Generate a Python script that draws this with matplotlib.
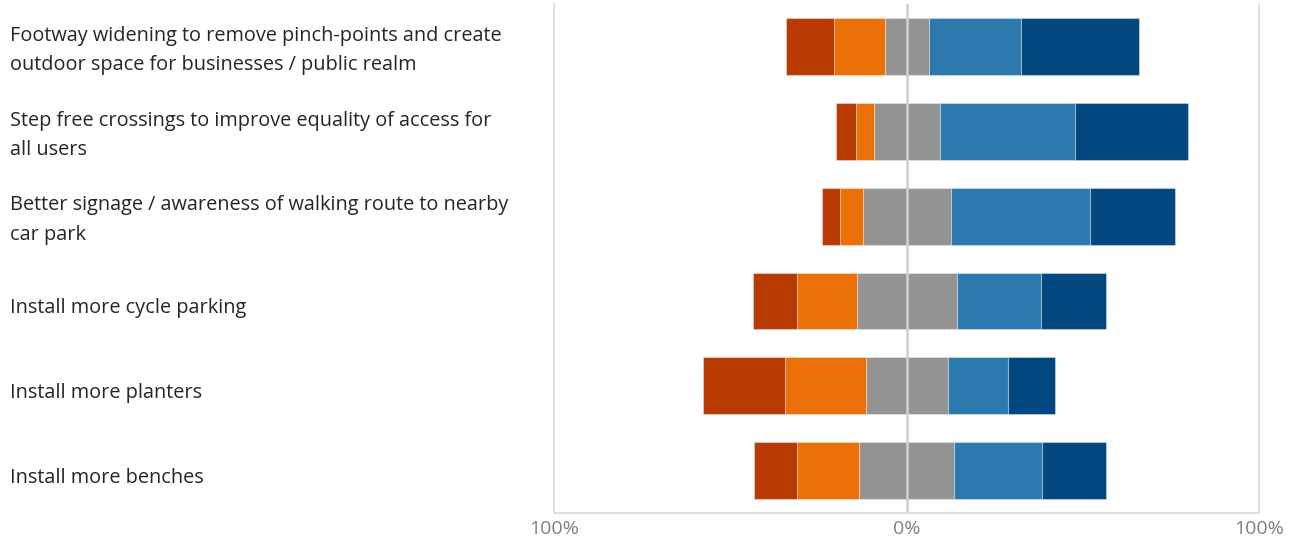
import matplotlib
matplotlib.use("Agg")
import matplotlib.pyplot as plt
import matplotlib.transforms as mtransforms
import numpy as np

plt.rcParams['font.family'] = ['Open Sans', 'DejaVu Sans']

categories = [
    "Footway widening to remove pinch-points and create\noutdoor space for businesses / public realm",
    "Step free crossings to improve equality of access for\nall users",
    "Better signage / awareness of walking route to nearby\ncar park",
    "Install more cycle parking",
    "Install more planters",
    "Install more benches",
]

strongly_oppose = [13.6, 5.7, 5.0, 12.4, 23.3, 12.4]
oppose = [14.5, 5.2, 6.6, 17.1, 23.0, 17.6]
neutral = [12.4, 18.7, 25.0, 28.2, 23.2, 27.0]
support = [26.2, 38.4, 39.5, 24.0, 17.0, 24.9]
strongly_support = [33.4, 32.1, 24.0, 18.3, 13.5, 18.2]

tick_values = [-100, 0, 100]
tick_labels = ["100%", "0%", "100%"]

colors = {
    "strongly_oppose": "#B83A02",
    "oppose": "#EA7007",
    "neutral": "#939393",
    "support": "#2C79AF",
    "strongly_support": "#024780",
}

fig = plt.figure(figsize=(13.04, 5.43), dpi=100)
ax = fig.add_axes([0.4252, 0.0552, 0.5405, 0.9374])

y = np.arange(len(categories))
h = 0.67
edge = dict(edgecolor=(1, 1, 1, 0.35), linewidth=0.8)

so = np.array(strongly_oppose)
op = np.array(oppose)
ne = np.array(neutral)
su = np.array(support)
ss = np.array(strongly_support)

# neutral split evenly around zero, opposition to the left, support to the right
half = ne / 2
ax.barh(y, -half, left=0, height=h, color=colors["neutral"], **edge)
ax.barh(y, half, left=0, height=h, color=colors["neutral"], **edge)
ax.barh(y, -op, left=-half, height=h, color=colors["oppose"], **edge)
ax.barh(y, -so, left=-half - op, height=h, color=colors["strongly_oppose"], **edge)
ax.barh(y, su, left=half, height=h, color=colors["support"], **edge)
ax.barh(y, ss, left=half + su, height=h, color=colors["strongly_support"], **edge)

ax.axvline(0, color="#d0d0d0", linewidth=1.8, zorder=5)

ax.set_xlim(-100, 100)
ax.set_ylim(len(categories) - 0.5, -0.5)

ax.spines["top"].set_visible(False)
for s in ["left", "right", "bottom"]:
    ax.spines[s].set_color("#d9d9d9")
    ax.spines[s].set_linewidth(1.2)

ax.set_xticks(tick_values)
ax.set_xticklabels(tick_labels)
ax.tick_params(axis="x", length=0, pad=5, labelsize=14, labelcolor="#808080")
ax.set_yticks([])

# category labels, left aligned near the figure edge at each bar's position
base = mtransforms.blended_transform_factory(fig.transFigure, ax.transData)
for yi, label in zip(y, categories):
    shift = 4.0 if "\n" in label else 7.0
    trans = base + mtransforms.ScaledTranslation(0, -shift / 100, fig.dpi_scale_trans)
    ax.text(10 / 1304, yi, label, transform=trans, ha="left", va="center",
            fontsize=14.3, color="#262626", linespacing=1.62, clip_on=False)

fig.savefig("out.png", dpi=100, facecolor="white")
